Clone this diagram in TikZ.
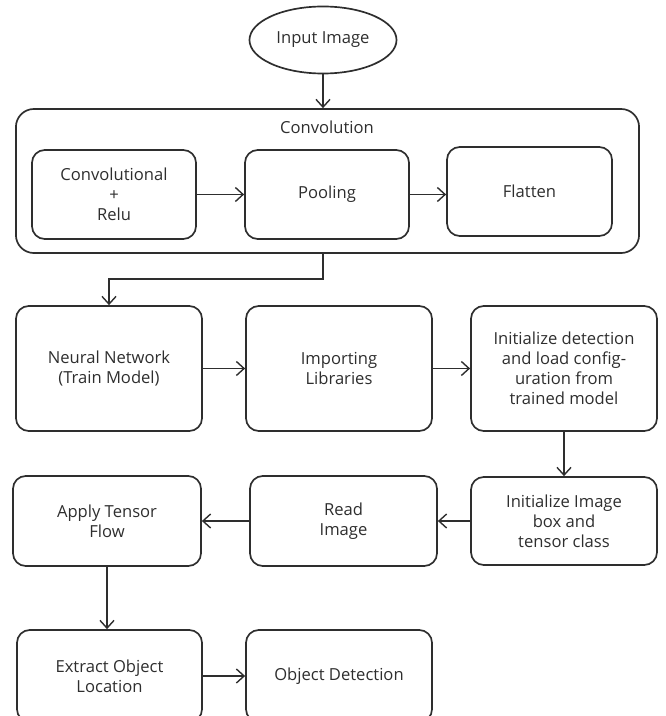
\documentclass[tikz,border=0pt]{standalone}
\usepackage{fontspec}
\setmainfont{Open Sans}
\usepackage{tikz}
\usetikzlibrary{arrows.meta}
\usetikzlibrary{shapes}
\usetikzlibrary{scopes}

\definecolor{inkgray}{HTML}{2E2E2E}

\begin{document}
\begin{tikzpicture}[x=0.025cm,y=-0.025cm,
		line width=1.2pt,draw=inkgray,
		every node/.style={text=inkgray,font=\fontsize{11.8}{14.2}\selectfont,align=center},
		stepbox/.style={draw,rounded corners=0.32cm,inner sep=2pt},
		flow/.style={-{Straight Barb[length=5.5pt,width=10pt,line width=1pt]}}]
		% Keeping the page as large as the reference
		\useasboundingbox (0,0) rectangle (665,716);
		% The start ellipse and the convolution block
		\node[draw,ellipse,minimum width=3.675cm,minimum height=1.675cm] (input) at (323,40) {Input Image};
		\node[stepbox,rounded corners=0.45cm,minimum width=15.575cm,minimum height=3.6cm] (conv) at (327.5,181) {};
		\node (convlabel) at (327,127) {Convolution};
		% Inner boxes of the convolution
		\node[stepbox,minimum width=4.1cm,minimum height=2.225cm] (convrelu) at (114,194.5) {Convolutional\\+\\Relu};
		\node[stepbox,minimum width=4.1cm,minimum height=2.225cm] (pooling) at (327,194.5) {Pooling};
		\node[stepbox,minimum width=4.125cm,minimum height=2.225cm] (flatten) at (529.5,191.5) {Flatten};
		% Second row
		\node[stepbox,minimum width=4.65cm,minimum height=3.125cm] (neural) at (109,368.5) {Neural Network\\(Train Model)};
		\node[stepbox,minimum width=4.65cm,minimum height=3.125cm] (libs) at (339,368.5) {Importing\\Libraries};
		\node[stepbox,minimum width=4.65cm,minimum height=3.125cm] (initdet) at (564,368.5) {Initialize detection\\and load config-\\uration from\\trained model};
		% Third row
		\node[stepbox,minimum width=4.7cm,minimum height=2.25cm] (tensor) at (107,521) {Apply Tensor\\Flow};
		\node[stepbox,minimum width=4.675cm,minimum height=2.25cm] (readimg) at (343.5,521) {Read\\Image};
		\node[stepbox,minimum width=4.65cm,minimum height=2.2cm] (initimg) at (564,521) {Initialize Image\\box and\\tensor class};
		% Last row, running off the bottom edge
		\node[stepbox,minimum width=4.625cm,minimum height=2.3cm] (extract) at (109.5,676) {Extract Object\\Location};
		\node[stepbox,minimum width=4.65cm,minimum height=2.3cm] (objdet) at (339,676) {Object Detection};
		% Connectors
		\draw[flow] (input) -- (input |- conv.north);
		\draw[flow] (convrelu) -- (pooling);
		\draw[flow] (pooling.east) -- (pooling.east -| flatten.west);
		\draw[flow] (conv.south -| input) -- ++(0,25) coordinate (turn) -| (neural.north);
		\draw[flow] (neural) -- (libs);
		\draw[flow] (libs) -- (initdet);
		\draw[flow] (initdet) -- (initimg);
		\draw[flow] (initimg) -- (readimg);
		\draw[flow] (readimg) -- (tensor);
		\draw[flow] (tensor.south) -- (tensor.south |- extract.north);
		\draw[flow] (extract) -- (objdet);
	\end{tikzpicture}
\end{document}
